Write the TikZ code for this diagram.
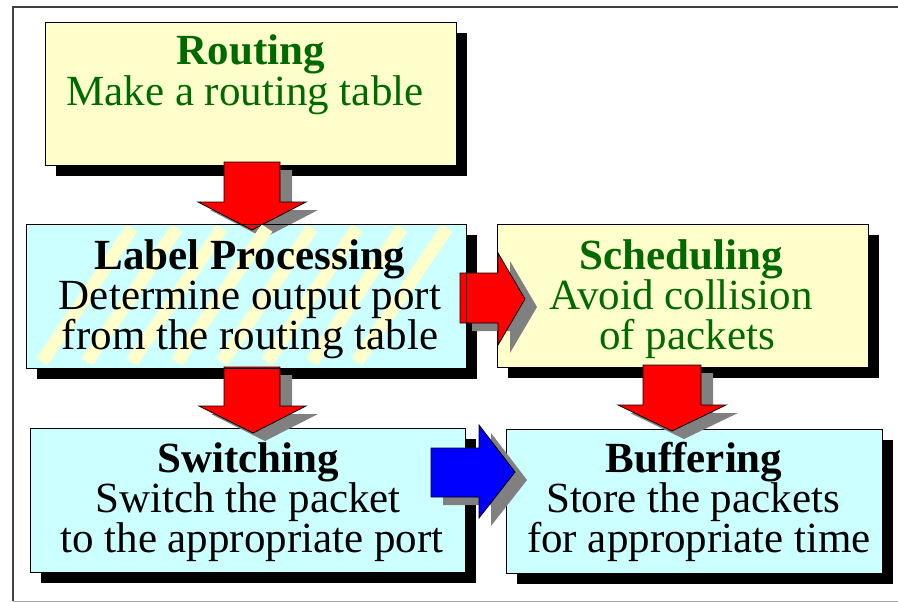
\documentclass[tikz,border=0pt]{standalone}
\usepackage{fontspec}
\setmainfont{Liberation Serif}
\usetikzlibrary{shadows}
\definecolor{boxyellow}{HTML}{FFFFCC}
\definecolor{boxcyan}{HTML}{CCFFFF}
\definecolor{titlegreen}{RGB}{0,105,0}
\definecolor{shadowgray}{HTML}{808080}
\definecolor{framegray}{HTML}{404040}
\newcommand{\downblock}[9]{%
  \fill[arrowshadow,shift={(12,8)}] (#2,#4) -- (#3,#4) -- (#3,#5) -- (#7,#5) -- (#8,#9) -- (#6,#5) -- (#2,#5) -- cycle;
  \filldraw[#1] (#2,#4) -- (#3,#4) -- (#3,#5) -- (#7,#5) -- (#8,#9) -- (#6,#5) -- (#2,#5) -- cycle;}
\newcommand{\rightblock}[9]{%
  \fill[arrowshadow,shift={(12,8)}] (#2,#4) -- (#3,#4) -- (#3,#6) -- (#8,#9) -- (#3,#7) -- (#3,#5) -- (#2,#5) -- cycle;
  \filldraw[#1] (#2,#4) -- (#3,#4) -- (#3,#6) -- (#8,#9) -- (#3,#7) -- (#3,#5) -- (#2,#5) -- cycle;}
\begin{document}
\begin{tikzpicture}[x=1pt,y=-1pt,
  box/.style={draw=black, line width=0.9pt, inner sep=0pt, anchor=north west,
    general shadow={fill=black, shadow xshift=11pt, shadow yshift=-11pt}},
  yellowbox/.style={box, fill=boxyellow},
  cyanbox/.style={box, fill=boxcyan},
  arrowshadow/.style={fill=shadowgray},
  redarrow/.style={fill=red, draw=black, line width=0.8pt, line join=miter},
  bluearrow/.style={fill=blue, draw=black, line width=0.8pt, line join=miter},
  stripe/.style={draw=boxyellow, line width=13pt},
  txt/.style={anchor=base, inner sep=0pt, font=\fontsize{43}{40}\selectfont},
  ttl/.style={txt, font=\fontsize{43}{40}\selectfont\bfseries}]
\useasboundingbox (0,0) rectangle (898,602);
\fill[white] (0,0) rectangle (898,602);
% frame
\draw[framegray, line width=1.6pt] (13,601) -- (13,7) -- (898,7);
\draw[black!35, line width=1pt] (13,601) -- (898,601);
% boxes
\node[yellowbox, minimum width=411pt, minimum height=143pt] (routing) at (45,22) {};
\node[cyanbox, minimum width=440pt, minimum height=144pt] (label) at (26,224) {};
\node[yellowbox, minimum width=371pt, minimum height=143pt] (sched) at (497,224) {};
\node[cyanbox, minimum width=435pt, minimum height=144pt] (switch) at (30,428) {};
\node[cyanbox, minimum width=376pt, minimum height=144pt] (buffer) at (506,429) {};
% arrows
\downblock{redarrow}{224}{280}{162}{202}{198}{306}{252}{230}
\downblock{redarrow}{224}{280}{367}{406}{199}{306}{253}{433}
\downblock{redarrow}{643}{701}{365}{405}{618}{726}{672}{431}
\rightblock{redarrow}{460}{498}{273}{323}{253}{345}{525}{299}
\rightblock{bluearrow}{431}{479}{448}{497}{425}{518}{515}{472}
% stripes in Label Processing
\begin{scope}
\clip (label.north west) rectangle (label.south east);
\foreach \k in {0,...,7}{
  \draw[stripe] ({42+45*\k},362) -- ({132+45*\k},228);
}
\end{scope}
\draw[black, line width=0.9pt] (label.north west) rectangle (label.south east);
% texts
\node[ttl, text=titlegreen] (r1) at (251,65) {Routing};
\node[txt, text=titlegreen] (r2) at (245,106) {Make a routing table};
\node[ttl] (l1) at (250,269) {Label Processing};
\node[txt] (l2) at (250,309) {Determine output port};
\node[txt] (l3) at (250,349) {from the routing table};
\node[ttl, text=titlegreen] (s1) at (681,269) {Scheduling};
\node[txt, text=titlegreen] (s2) at (681,309) {Avoid collision};
\node[txt, text=titlegreen] (s3) at (687,349) {of packets};
\node[ttl] (w1) at (248,472) {Switching};
\node[txt] (w2) at (248,512) {Switch the packet};
\node[txt] (w3) at (252,552) {to the appropriate port};
\node[ttl] (b1) at (694,472) {Buffering};
\node[txt] (b2) at (693,512) {Store the packets};
\node[txt] (b3) at (699,552) {for appropriate time};
\end{tikzpicture}
\end{document}
